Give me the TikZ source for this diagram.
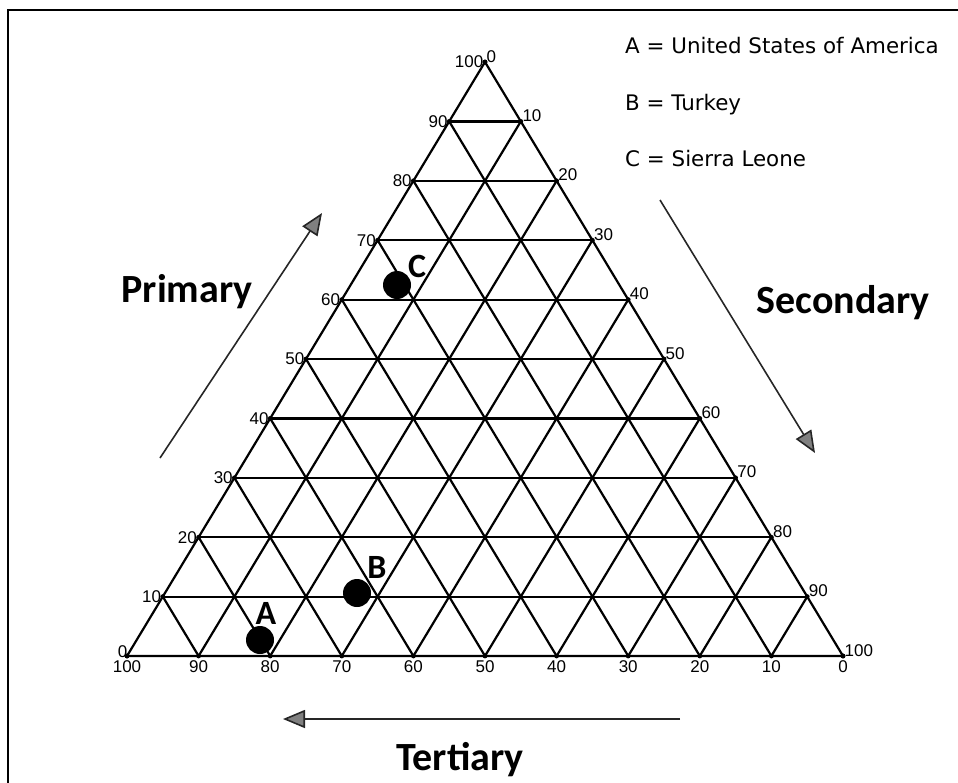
\documentclass[tikz,border=0pt]{standalone}
\usepackage{fontspec}
\setmainfont{Liberation Sans}
\newfontfamily\calib{Carlito}
\newfontfamily\verd{DejaVu Sans}
\usetikzlibrary{calc,arrows.meta}
\tikzset{
  grid/.style={line width=2.2pt, line join=round, line cap=round},
  tick/.style={font=\fontsize{17}{19}\selectfont, inner sep=1.5pt},
  dot/.style={circle, fill=black, minimum size=28pt, inner sep=0pt},
  ptlabel/.style={font=\calib\bfseries\fontsize{34}{36}\selectfont, inner sep=0pt},
  big/.style={font=\calib\bfseries\fontsize{40}{44}\selectfont, inner sep=0pt},
  legend/.style={font=\verd\fontsize{21.4}{24}\selectfont, inner sep=0pt, anchor=base west},
  arr/.style={line width=1.6pt, draw=black!85, -{Triangle[length=22pt,width=18pt,fill=black!50]}},
}
\begin{document}
\begin{tikzpicture}[x=1pt,y=-1pt]
\useasboundingbox (0,0) rectangle (958,782);
% frame
\draw[line width=2.6pt] (8,790) -- (8,10) -- (970,10);
% triangle corners
\coordinate (BL) at (127,656);
\coordinate (BR) at (843,656);
\coordinate (T) at (485,62);
\foreach \k in {0,...,10} {
  \coordinate (L\k) at ($(BL)!\k/10!(T)$);
  \coordinate (R\k) at ($(BR)!\k/10!(T)$);
  \coordinate (B\k) at ($(BL)!\k/10!(BR)$);
}
\draw[grid] (BL) -- (BR) -- (T) -- cycle;
\foreach \k in {1,...,9} {
  \pgfmathtruncatemacro\j{10-\k}
  \draw[grid] (L\k) -- (R\k);
  \draw[grid] (B\k) -- (R\j);
  \draw[grid] (B\k) -- (L\k);
}
% tick dots and labels
\foreach \k in {0,...,10} {
  \pgfmathtruncatemacro\w{100-10*\k}
  \fill (L\k) circle (2.4);
  \fill (R\k) circle (2.4);
  \fill (B\k) circle (2.4);
  \node[tick, anchor=south west, yshift=-2pt] (rt\k) at (R\k) {\w};
  \node[tick, anchor=north, yshift=-3pt] (bt\k) at (B\k) {\w};
}
\foreach \k in {1,...,10} {
  \pgfmathtruncatemacro\v{10*\k}
  \node[tick, anchor=east] (lt\k) at (L\k) {\v};
}
\node[tick, anchor=south east, xshift=2pt, yshift=-3pt] (lt0) at (L0) {0};
% data points
\node[dot] (pA) at (260,640) {};
\node[dot] (pB) at (357,593) {};
\node[dot] (pC) at (397,285) {};
\node[ptlabel] (lA) at (266,613) {A};
\node[ptlabel] (lB) at (377,567) {B};
\node[ptlabel] (lC) at (417,266) {C};
% arrows
\coordinate (pa1) at (160,458);
\coordinate (pa2) at (322,213);
\coordinate (sa1) at (660,200);
\coordinate (sa2) at (815,453);
\coordinate (ta1) at (680,719);
\coordinate (ta2) at (283,719);
\draw[arr] (pa1) -- (pa2);
\draw[arr] (sa1) -- (sa2);
\draw[arr] (ta1) -- (ta2);
% axis titles
\node[big, anchor=base] (tp) at (187,302) {Primary};
\node[big, anchor=base] (ts) at (843,313) {Secondary};
\node[big, anchor=base] (tt) at (460,770) {Tertiary};
% legend
\node[legend] (lg1) at (625,53) {A = United States of America};
\node[legend] (lg2) at (625,110) {B = Turkey};
\node[legend] (lg3) at (625,166) {C = Sierra Leone};
\end{tikzpicture}
\end{document}
